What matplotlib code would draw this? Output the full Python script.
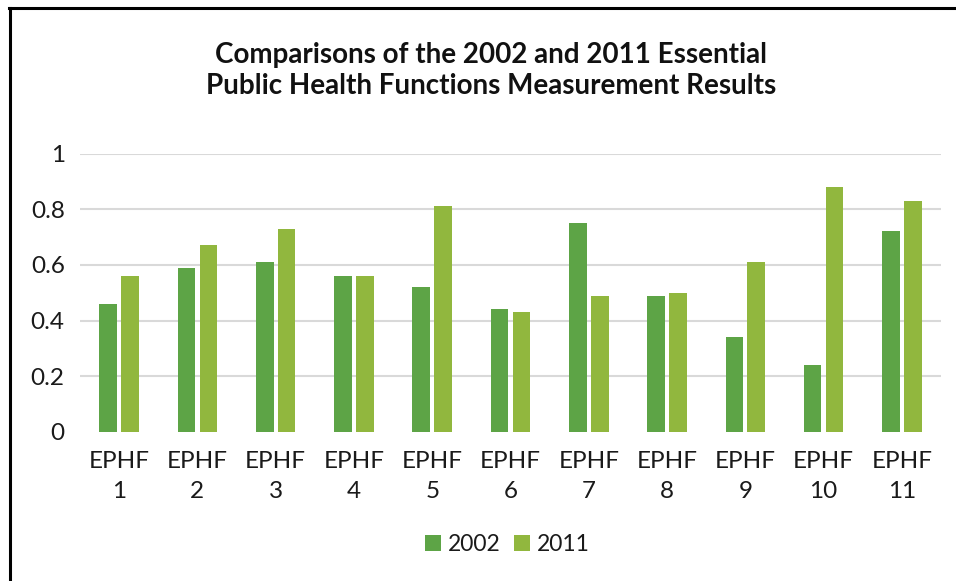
import numpy as np
import matplotlib
matplotlib.use('Agg')
import matplotlib.pyplot as plt

# values
categories = ['EPHF\n1', 'EPHF\n2', 'EPHF\n3', 'EPHF\n4', 'EPHF\n5', 'EPHF\n6',
              'EPHF\n7', 'EPHF\n8', 'EPHF\n9', 'EPHF\n10', 'EPHF\n11']
values_2002 = [0.46, 0.59, 0.61, 0.56, 0.52, 0.44, 0.75, 0.49, 0.34, 0.24, 0.72]
values_2011 = [0.56, 0.67, 0.73, 0.56, 0.81, 0.43, 0.49, 0.50, 0.61, 0.88, 0.83]
y_ticks = [0, 0.2, 0.4, 0.6, 0.8, 1]
y_tick_labels = ['0', '0.2', '0.4', '0.6', '0.8', '1']

color_2002 = '#5DA446'
color_2011 = '#91B73E'

plt.rcParams['font.family'] = ['Lato', 'DejaVu Sans']

fig = plt.figure(figsize=(9.56, 5.81), dpi=100)
ax = fig.add_axes([0.0837, 0.2565, 0.9006, 0.4793])

x = np.arange(len(categories))
width = 0.226
offset = 0.14
ax.bar(x - offset, values_2002, width, color=color_2002, label='2002', zorder=3)
ax.bar(x + offset, values_2011, width, color=color_2011, label='2011', zorder=3)

ax.set_xlim(-0.5, len(categories) - 0.5)
ax.set_ylim(0, 1)
ax.set_yticks(y_ticks)
ax.set_yticklabels(y_tick_labels)
ax.set_xticks(x)
ax.set_xticklabels(categories, linespacing=1.5)
ax.tick_params(axis='both', length=0, labelsize=17.5, colors='#1a1a1a')
ax.tick_params(axis='y', pad=11)
ax.tick_params(axis='x', pad=14)

for t in y_ticks[1:]:
    ax.axhline(t, color='#D9D9D9', linewidth=1.5, zorder=1)
for s in ax.spines.values():
    s.set_visible(False)

fig.text(0.5136, 0.879, 'Comparisons of the 2002 and 2011 Essential\nPublic Health Functions Measurement Results',
         ha='center', va='center', fontsize=20, fontweight='bold', linespacing=1.25, color='#111111')

fig.legend(loc='center', bbox_to_anchor=(0.531, 0.062), ncol=2, frameon=False,
           fontsize=16.5, handlelength=0.7, handleheight=0.7, handletextpad=0.3,
           columnspacing=0.6, labelcolor='#1a1a1a')

# outer frame (only the left and top edges show in the reference)
fig.add_artist(plt.Line2D([0.0105, 0.0105], [0, 0.986], color='black', linewidth=2.2, transform=fig.transFigure))
fig.add_artist(plt.Line2D([0.0095, 1.0], [0.986, 0.986], color='black', linewidth=2.2, transform=fig.transFigure))

plt.savefig('out.png', dpi=100)
